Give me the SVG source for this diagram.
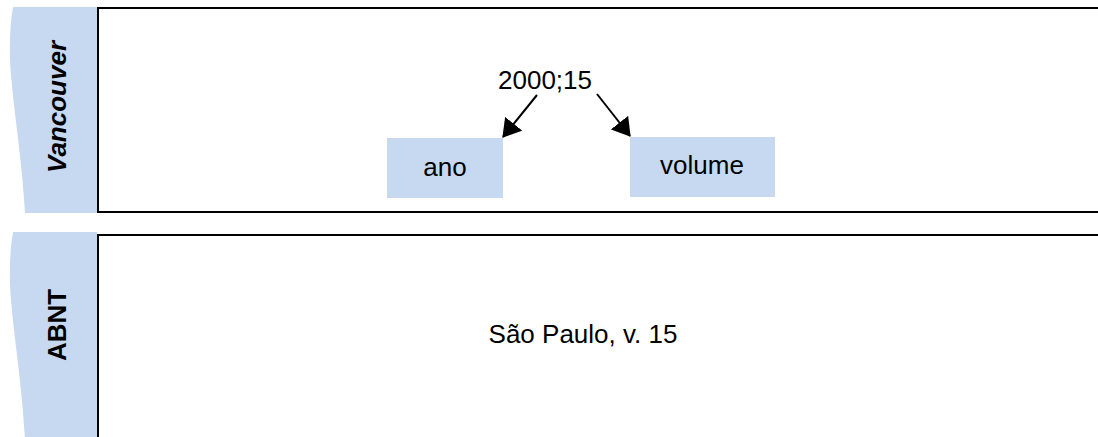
<svg xmlns="http://www.w3.org/2000/svg" width="1098" height="437" viewBox="0 0 1098 437">
<defs>
<marker id="arr" viewBox="0 0 18 22" refX="17" refY="11" markerWidth="18" markerHeight="22" markerUnits="userSpaceOnUse" orient="auto">
<path d="M0,0 L18,11 L0,22 Z" fill="#000"/>
</marker>
</defs>
<style>
.tab{fill:#c6d9f1}
.frame{fill:none;stroke:#000;stroke-width:2}
.box{fill:#c6d9f1}
.t{font-family:"Liberation Sans",Arial,sans-serif;font-size:26px;fill:#000}
.lane{font-family:"Liberation Sans",Arial,sans-serif;font-size:26px;font-weight:bold;fill:#000}
.conn{stroke:#000;stroke-width:2;fill:none}
</style>
<rect width="1098" height="437" fill="#fff"/>
<g id="lane-vancouver">
<path class="tab" d="M13,7 C9,30 9,60 12,85 C15,120 22,160 25,213 L97,213 L97,7 Z"/>
<path class="frame" d="M1100,8 H98 V212 H1100"/>
<text class="lane" font-style="italic" transform="translate(66,107) rotate(-90)" text-anchor="middle">Vancouver</text>
</g>
<g id="lane-abnt">
<path class="tab" d="M13,232 C9,255 9,285 12,310 C15,345 22,385 25,440 L97,440 L97,232 Z"/>
<path class="frame" d="M1100,235 H98 V440"/>
<text class="lane" transform="translate(66,325) rotate(-90)" text-anchor="middle">ABNT</text>
</g>
<g id="node-source">
<text class="t" x="545" y="89" text-anchor="middle">2000;15</text>
</g>
<g id="node-ano">
<rect class="box" x="387" y="138" width="116" height="60"/>
<text class="t" x="445" y="176" text-anchor="middle">ano</text>
</g>
<g id="node-volume">
<rect class="box" x="630" y="137" width="145" height="60"/>
<text class="t" x="702" y="174" text-anchor="middle">volume</text>
</g>
<g id="node-abnt-text">
<text class="t" x="583" y="343" text-anchor="middle">São Paulo, v. 15</text>
</g>
<g id="connectors">
<line class="conn" x1="537" y1="95" x2="503" y2="137" marker-end="url(#arr)"/>
<line class="conn" x1="597" y1="94" x2="630" y2="136" marker-end="url(#arr)"/>
</g>
</svg>
